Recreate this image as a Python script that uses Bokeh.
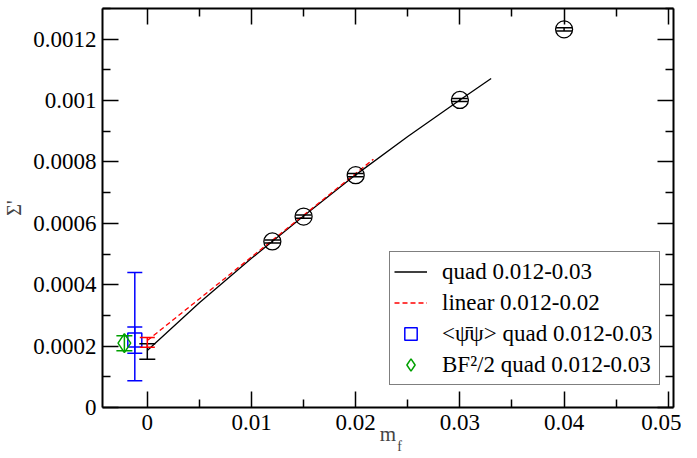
from bokeh.plotting import figure
from bokeh.models import (Range1d, LinearAxis, FixedTicker, CustomJSTickFormatter,
                          Whisker, TeeHead, ColumnDataSource, Legend, LegendItem)
from bokeh.embed import file_html
from bokeh.resources import INLINE

# ---------------- data ----------------
mf = [0.012, 0.015, 0.02, 0.03, 0.04]
sigma = [0.000541, 0.000622, 0.000757, 0.001002, 0.001232]
sigma_lo = [0.000536, 0.000617, 0.000752, 0.000997, 0.001227]
sigma_hi = [0.000546, 0.000627, 0.000762, 0.001007, 0.001237]

quad_x = [0.0, 0.005, 0.01, 0.015, 0.02, 0.025, 0.03, 0.033]
quad_y = [0.000186, 0.000341, 0.000486, 0.000624, 0.000758, 0.000883, 0.001002, 0.001072]
quad0_x = [0.0]
quad0_lo = [0.000157]
quad0_hi = [0.000208]

lin_x = [0.0, 0.0217]
lin_y = [0.000218, 0.000809]
lin0_x = [0.0]
lin0_lo = [0.000196]
lin0_hi = [0.000228]

pbp_x = [-0.0012]
pbp_y = [0.00022]
pbp_lo_big = [0.000087]
pbp_hi_big = [0.00044]
pbp_lo_small = [0.000177]
pbp_hi_small = [0.000262]

bf_x = [-0.0022]
bf_y = [0.00021]
bf_lo = [0.000185]
bf_hi = [0.000234]

x_ticks = [0.0, 0.01, 0.02, 0.03, 0.04, 0.05]
x_minor = [-0.005, 0.005, 0.015, 0.025, 0.035, 0.045]
y_ticks = [0.0, 0.0002, 0.0004, 0.0006, 0.0008, 0.001, 0.0012]
y_minor = [0.0001, 0.0003, 0.0005, 0.0007, 0.0009, 0.0011, 0.0013]

legend_labels = ["quad 0.012-0.03", "linear 0.012-0.02",
                 "<\u03c8\u0304\u03c8> quad 0.012-0.03", "BF\u00b2/2 quad 0.012-0.03"]
x_title_main = "m"
x_title_sub = "f"
y_title = "\u03a3'"

FONT = "Liberation Serif"
BLUE = "#0000ff"
GREEN = "#00a000"

p = figure(width=681, height=458, output_backend="svg", toolbar_location=None,
           x_range=Range1d(-0.0043, 0.0505), y_range=Range1d(0, 0.0013),
           min_border_left=95, min_border_right=8, min_border_top=8, min_border_bottom=51,
           x_axis_location=None, y_axis_location=None)
p.grid.visible = False
p.outline_line_color = None

fmt = CustomJSTickFormatter(code="return String(parseFloat(tick.toFixed(6)));")


def style_axis(ax, ticks, minor, show_labels):
    ax.ticker = FixedTicker(ticks=ticks, minor_ticks=minor)
    ax.formatter = fmt
    ax.axis_line_color = "black"
    ax.axis_line_width = 2
    ax.major_tick_line_width = 1.5
    ax.minor_tick_line_width = 1.5
    ax.major_tick_in = 16
    ax.major_tick_out = 0
    ax.minor_tick_in = 8
    ax.minor_tick_out = 0
    ax.major_label_text_font = FONT
    if show_labels:
        ax.major_label_text_color = "black"
        ax.major_label_text_font_size = "23px"
        ax.major_label_standoff = 6
    else:
        ax.major_label_text_color = None
        ax.major_label_text_font_size = "1px"
        ax.major_label_standoff = 0


xb = LinearAxis(axis_label=x_title_main)
style_axis(xb, x_ticks, x_minor, True)
xb.major_label_standoff = 7
xb.axis_label_text_font = FONT
xb.axis_label_text_font_style = "normal"
xb.axis_label_text_font_size = "21px"
xb.axis_label_standoff = -11
p.add_layout(xb, "below")

# subscript "f" of the x title, drawn as the only label of a bare axis
xs = LinearAxis(ticker=FixedTicker(ticks=[0.0242], minor_ticks=[]),
                major_label_overrides={0.0242: x_title_sub})
xs.axis_line_color = None
xs.major_tick_line_color = None
xs.minor_tick_line_color = None
xs.major_tick_in = 0
xs.major_tick_out = 0
xs.major_label_text_font = FONT
xs.major_label_text_font_size = "14px"
xs.major_label_standoff = -10
p.add_layout(xs, "below")

xa = LinearAxis()
style_axis(xa, x_ticks, x_minor, False)
p.add_layout(xa, "above")
yl = LinearAxis(axis_label=y_title)
style_axis(yl, y_ticks, y_minor, True)
yl.axis_label_text_font = FONT
yl.axis_label_text_font_style = "normal"
yl.axis_label_text_font_size = "20px"
yl.axis_label_standoff = 5
p.add_layout(yl, "left")
yr = LinearAxis()
style_axis(yr, y_ticks, y_minor, False)
p.add_layout(yr, "right")

# fits
r_quad = p.line(quad_x, quad_y, line_color="black", line_width=1.3)
r_lin = p.line(lin_x, lin_y, line_color="red", line_width=1.3, line_dash="5 3")

# error bars
def whisker(xv, lo, hi, color, w):
    src = ColumnDataSource(dict(x=xv, lo=lo, hi=hi))
    wk = Whisker(base="x", lower="lo", upper="hi", source=src,
                 line_color=color, line_width=1.5, level="glyph",
                 upper_head=TeeHead(size=w, line_color=color, line_width=1.5),
                 lower_head=TeeHead(size=w, line_color=color, line_width=1.5))
    p.add_layout(wk)

whisker(quad0_x, quad0_lo, quad0_hi, "black", 16)
whisker(lin0_x, lin0_lo, lin0_hi, "red", 15)
whisker(pbp_x, pbp_lo_big, pbp_hi_big, BLUE, 15)
whisker(pbp_x, pbp_lo_small, pbp_hi_small, BLUE, 15)
whisker(bf_x, bf_lo, bf_hi, GREEN, 16)
whisker(mf, sigma_lo, sigma_hi, "black", 16)

p.scatter(mf, sigma, marker="circle", size=17, fill_color=None,
          line_color="black", line_width=1.3)
r_pbp = p.scatter(pbp_x, pbp_y, marker="square", size=14, fill_color=None,
                  line_color=BLUE, line_width=1.5)
r_bf = p.scatter(bf_x, bf_y, marker="diamond", size=19, fill_color=None,
                 line_color=GREEN, line_width=1.5)

legend = Legend(items=[LegendItem(label=legend_labels[0], renderers=[r_quad]),
                       LegendItem(label=legend_labels[1], renderers=[r_lin]),
                       LegendItem(label=legend_labels[2], renderers=[r_pbp]),
                       LegendItem(label=legend_labels[3], renderers=[r_bf])],
                location=(287, 22))
legend.label_text_font = FONT
legend.label_text_font_size = "23px"
legend.label_text_color = "black"
legend.glyph_width = 33
legend.glyph_height = 31
legend.label_height = 24
legend.label_width = 213
legend.label_standoff = 15
legend.spacing = 0
legend.padding = 4
legend.margin = 0
legend.border_line_color = "black"
legend.border_line_width = 1.5
legend.background_fill_color = "white"
legend.background_fill_alpha = 1
p.add_layout(legend)

open("out.html", "w").write(file_html(p, INLINE))
